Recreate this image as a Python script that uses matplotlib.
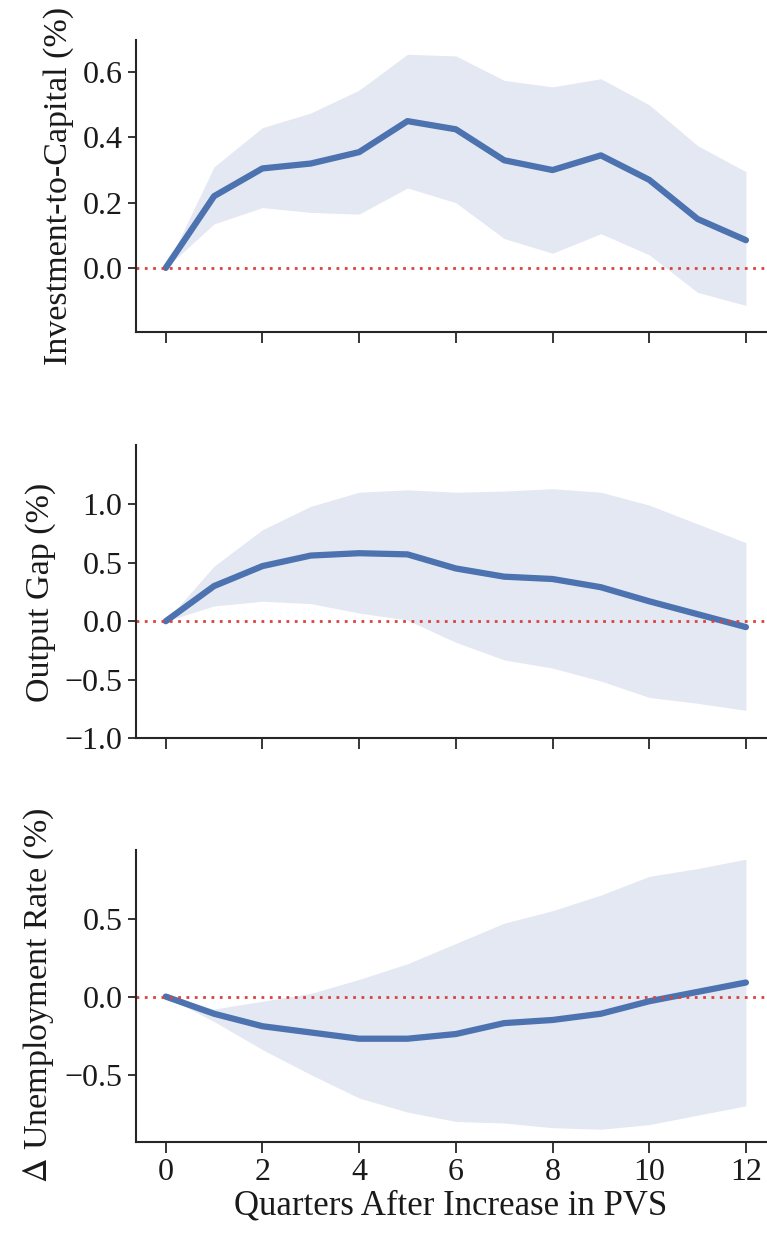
import matplotlib
matplotlib.use("Agg")
import matplotlib.pyplot as plt
import seaborn as sns

sns.set_theme(style="ticks")
plt.rcParams["font.family"] = ["Liberation Serif", "DejaVu Serif"]
plt.rcParams["mathtext.fontset"] = "stix"

quarters = list(range(13))

inv_mean = [0, 0.22, 0.305, 0.32, 0.355, 0.45, 0.425, 0.33, 0.30, 0.345, 0.27, 0.15, 0.085]
inv_upper = [0, 0.31, 0.43, 0.475, 0.545, 0.655, 0.65, 0.575, 0.555, 0.58, 0.50, 0.375, 0.295]
inv_lower = [0, 0.135, 0.185, 0.17, 0.165, 0.245, 0.20, 0.09, 0.045, 0.105, 0.04, -0.075, -0.115]

gap_mean = [0, 0.30, 0.47, 0.56, 0.58, 0.57, 0.45, 0.38, 0.36, 0.29, 0.17, 0.06, -0.05]
gap_upper = [0, 0.47, 0.78, 0.98, 1.10, 1.12, 1.10, 1.11, 1.13, 1.10, 0.99, 0.83, 0.67]
gap_lower = [0, 0.13, 0.17, 0.15, 0.07, 0.01, -0.18, -0.33, -0.40, -0.51, -0.65, -0.70, -0.76]

unemp_mean = [0, -0.11, -0.19, -0.23, -0.27, -0.27, -0.24, -0.17, -0.15, -0.11, -0.03, 0.03, 0.09]
unemp_upper = [0, -0.08, -0.03, 0.02, 0.11, 0.21, 0.34, 0.47, 0.55, 0.65, 0.77, 0.82, 0.88]
unemp_lower = [0, -0.16, -0.34, -0.50, -0.65, -0.74, -0.80, -0.81, -0.84, -0.85, -0.82, -0.76, -0.70]

panels = [
    (inv_mean, inv_lower, inv_upper, "Investment-to-Capital (%)", (-0.195, 0.70),
     [0.0, 0.2, 0.4, 0.6], (0.732, 0.968)),
    (gap_mean, gap_lower, gap_upper, "Output Gap (%)", (-1.0, 1.5),
     [-1.0, -0.5, 0.0, 0.5, 1.0], (0.403, 0.640)),
    (unemp_mean, unemp_lower, unemp_upper, r"$\Delta$ Unemployment Rate (%)", (-0.93, 0.94),
     [-0.5, 0.0, 0.5], (0.077, 0.313)),
]

fig = plt.figure(figsize=(7.67, 12.37), dpi=100)
for i, (mean, lo, hi, label, ylim, yticks, (b, t)) in enumerate(panels):
    ax = fig.add_axes([0.177, b, 0.822, t - b])
    ax.fill_between(quarters, lo, hi, color="#e4e8f2", lw=0)
    ax.plot(quarters, mean, color="#4c72b0", lw=4.5, solid_capstyle="round")
    ax.axhline(0, color="#d9443f", ls=(0, (1, 2)), lw=2)
    ax.set_xlim(-0.62, 12.42)
    ax.set_ylim(*ylim)
    ax.set_yticks(yticks)
    ax.set_yticklabels([f"{v:.1f}".replace("-", "\u2212") for v in yticks])
    ax.set_xticks(range(0, 13, 2))
    ax.set_ylabel(label, fontsize=24.5, color="#1a1a1a", labelpad=6)
    ax.tick_params(labelsize=23, length=8, width=1.3, color="#262626", labelcolor="#1a1a1a")
    ax.tick_params(axis="y", length=6)
    if i < 2:
        ax.set_xticklabels([])
    else:
        ax.set_xlabel("Quarters After Increase in PVS", fontsize=25, color="#1a1a1a", labelpad=2)
    for s in ("left", "bottom"):
        ax.spines[s].set_linewidth(1.5)
        ax.spines[s].set_color("#262626")
    sns.despine(ax=ax)

fig.align_ylabels()
fig.savefig("out.png")
